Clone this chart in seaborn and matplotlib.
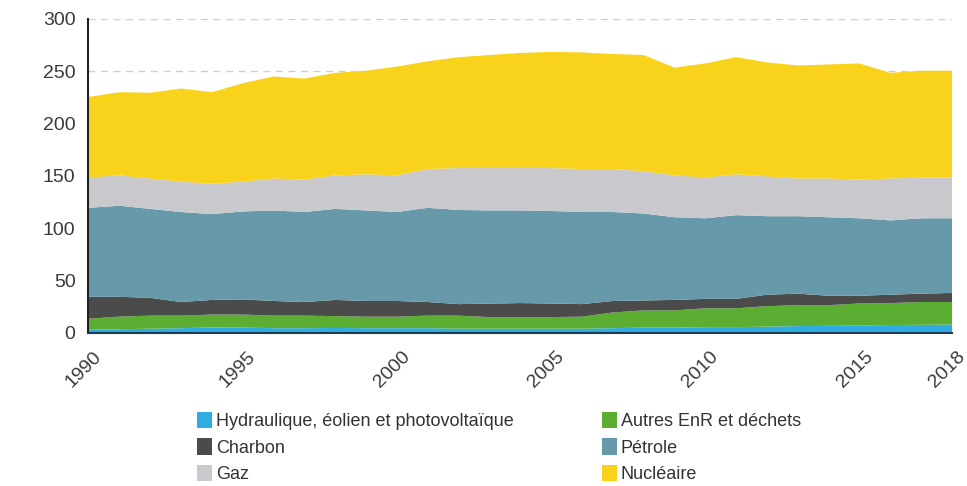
import numpy as np
import pandas as pd
import matplotlib
matplotlib.use("Agg")
import matplotlib.pyplot as plt
from matplotlib.transforms import ScaledTranslation
import seaborn as sns

# values (per year, stacked from the bottom)
years = list(range(1990, 2019))
hydraulique = [3.5, 4, 4.5, 5, 5.7, 5.5, 5, 5, 5.2, 5, 5, 5, 4.5, 4.5, 4.5,
               4.5, 4.5, 5, 5.5, 5.5, 6, 6, 6.5, 7, 7.2, 7.6, 8, 8.2, 8.5]
autres_enr = [10.5, 12, 12.5, 12, 12.3, 12.5, 12, 12, 11.3, 11, 11, 12, 12.5, 11.1, 11,
              11.1, 11.5, 15, 16.5, 16.5, 18, 18, 19.5, 20, 19.8, 21, 21, 21.8, 21.5]
charbon = [21, 19, 17, 13, 14, 14.5, 14, 13, 15.5, 15, 15, 13, 11, 12.9, 13.5,
           13, 12, 11, 9.5, 10, 9, 9, 11, 11, 9, 7.4, 8, 8, 8.7]
petrole = [85, 87, 85, 86, 82, 84, 86.5, 86, 87, 86.5, 85, 90, 90, 89, 88.5,
           88.4, 88, 85, 83.1, 79, 77, 80, 75, 74, 75, 74, 71, 72, 71.3]
gaz = [29, 29, 29, 29, 29, 28.5, 30.5, 31, 32, 34.5, 35, 37, 40, 40.5, 40.5,
       41, 41, 41, 40.4, 40, 39, 39, 38, 36, 37, 37, 40, 39, 39]
nucleaire = [77, 79.5, 82, 89, 87.5, 94, 97.5, 96.5, 98, 99, 104, 103, 106, 108, 110,
             111, 111.5, 110, 111, 103, 109, 112, 109, 108, 109, 111, 101, 102, 102]

labels = ["Hydraulique, éolien et photovoltaïque", "Autres EnR et déchets",
          "Charbon", "Pétrole", "Gaz", "Nucléaire"]
colors = ["#2fade3", "#5cae33", "#4b4b4b", "#6699a9", "#c9c9cd", "#f9d21b"]
xtick_labels = [1990, 1995, 2000, 2005, 2010, 2015, 2018]

df = pd.DataFrame({
    labels[0]: hydraulique, labels[1]: autres_enr, labels[2]: charbon,
    labels[3]: petrole, labels[4]: gaz, labels[5]: nucleaire,
}, index=years)

sns.set_style("white")
plt.rcParams['font.family'] = ['Liberation Sans', 'DejaVu Sans']

fig = plt.figure(figsize=(9.67, 4.86), dpi=100)
ax = fig.add_axes([0.091, 0.315, 0.893, 0.646])

# stacked areas
cum = np.zeros(len(years))
handles = {}
for lab, col in zip(labels, colors):
    top = cum + df[lab].values
    handles[lab] = ax.fill_between(df.index, cum, top, color=col, linewidth=0, label=lab)
    cum = top

ax.set_xlim(1990, 2018)
ax.set_ylim(0, 300)
ax.set_yticks(range(0, 301, 50))
ax.set_xticks(years)
ax.set_xticklabels([str(y) if y in xtick_labels else "" for y in years],
                   rotation=45, ha="right", va="center", rotation_mode="anchor")
ax.tick_params(axis="both", direction="out", length=5, width=1.2, color="#333333",
               labelsize=14, labelcolor="#3a3a3a")
ax.tick_params(axis="x", pad=10)
ax.tick_params(axis="y", pad=4)
shift = ScaledTranslation(8 / 72, 0, fig.dpi_scale_trans)
for t in ax.get_xticklabels():
    t.set_transform(t.get_transform() + shift)

ax.yaxis.grid(True, linestyle=(0, (5, 4)), color="#cfcfcf", linewidth=1)
ax.set_axisbelow(True)
sns.despine(ax=ax, top=True, right=True)
ax.spines["left"].set_color("#222222")
ax.spines["left"].set_linewidth(1.5)
ax.spines["bottom"].set_color("#1f3b4d")
ax.spines["bottom"].set_linewidth(1.5)

# legend: two columns, three rows
order = [labels[0], labels[2], labels[4], labels[1], labels[3], labels[5]]
fig.legend(handles=[handles[l] for l in order], loc="upper left",
           bbox_to_anchor=(0.196, 0.167),
           ncol=2, frameon=False, fontsize=13, handlelength=0.85, handleheight=1.0,
           handletextpad=0.2, columnspacing=4.9, labelspacing=0.45,
           borderaxespad=0, labelcolor="#333333")

fig.savefig("out.png", dpi=100)
